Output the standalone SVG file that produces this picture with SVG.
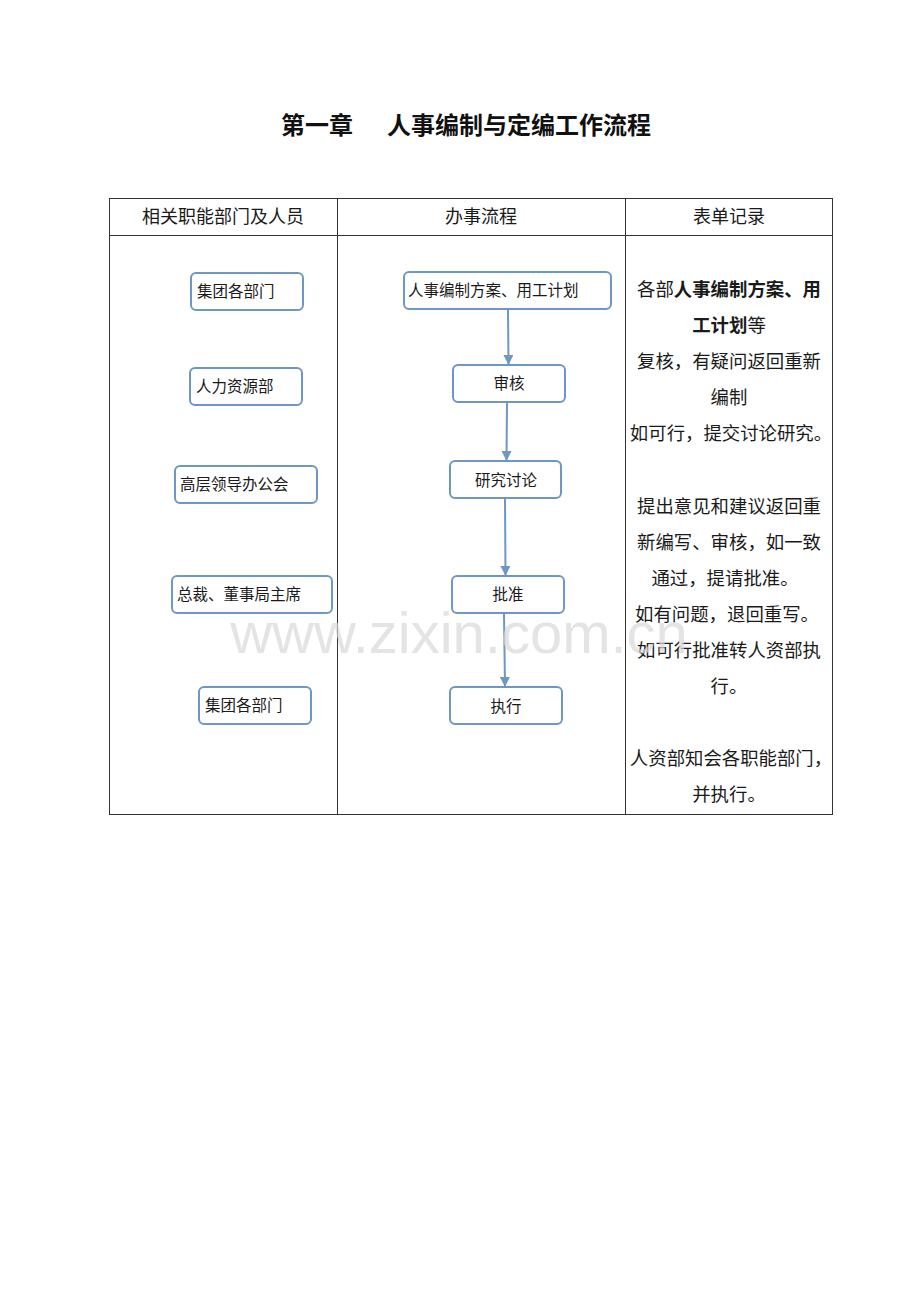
<svg xmlns="http://www.w3.org/2000/svg" width="920" height="1302" viewBox="0 0 920 1302">
<style>
.title{font-family:"Noto Sans CJK SC",sans-serif;font-weight:bold;font-size:24px;fill:#111}
.bx{fill:#fff;stroke:#6f97c3;stroke-width:2}
.nt{font-family:"Noto Sans CJK SC",sans-serif;font-size:15.5px;fill:#1a1a1a}
.hd{font-family:"Noto Sans CJK SC",sans-serif;font-size:18px;fill:#1a1a1a;text-anchor:middle}
.rt{font-family:"Noto Sans CJK SC",sans-serif;font-size:18.4px;fill:#1a1a1a;text-anchor:middle}
.grid{stroke:#333;stroke-width:1;fill:none}
.cn{stroke:#6f97c3;stroke-width:2;fill:none}
</style>
<defs>
<marker id="ah" markerWidth="10" markerHeight="10" refX="9" refY="5" orient="auto" markerUnits="userSpaceOnUse">
<path d="M0,0 L10,5 L0,10 Z" fill="#6f97c3"/>
</marker>
</defs>
<rect width="920" height="1302" fill="#fff"/>
<text class="title" x="281" y="134">第一章</text>
<text class="title" x="651" y="134" text-anchor="end">人事编制与定编工作流程</text>
<g id="table">
<rect class="grid" x="109.5" y="198.5" width="723" height="616"/>
<line class="grid" x1="109" y1="235.5" x2="832" y2="235.5"/>
<line class="grid" x1="337.5" y1="198" x2="337.5" y2="814"/>
<line class="grid" x1="625.5" y1="198" x2="625.5" y2="814"/>
<text class="hd" x="223" y="223">相关职能部门及人员</text>
<text class="hd" x="481" y="223">办事流程</text>
<text class="hd" x="729" y="223">表单记录</text>
</g>
<g id="l1"><rect class="bx" x="191" y="273" width="112" height="37" rx="5"/><text class="nt" x="197" y="297">集团各部门</text></g>
<g id="l2"><rect class="bx" x="190" y="368" width="112" height="37" rx="5"/><text class="nt" x="196" y="392">人力资源部</text></g>
<g id="l3"><rect class="bx" x="175" y="466" width="142" height="37" rx="5"/><text class="nt" x="180" y="490">高层领导办公会</text></g>
<g id="l4"><rect class="bx" x="172" y="576" width="160" height="37" rx="5"/><text class="nt" x="177" y="600">总裁、董事局主席</text></g>
<g id="l5"><rect class="bx" x="199" y="687" width="112" height="37" rx="5"/><text class="nt" x="205" y="711">集团各部门</text></g>
<g id="m1"><rect class="bx" x="404" y="272" width="207" height="37" rx="5"/><text class="nt" x="408" y="296">人事编制方案、用工计划</text></g>
<g id="m2"><rect class="bx" x="453" y="365" width="112" height="37" rx="5"/><text class="nt" x="509" y="389" text-anchor="middle">审核</text></g>
<g id="m3"><rect class="bx" x="450" y="461" width="111" height="37" rx="5"/><text class="nt" x="506" y="486" text-anchor="middle">研究讨论</text></g>
<g id="m4"><rect class="bx" x="452" y="576" width="112" height="37" rx="5"/><text class="nt" x="508" y="600" text-anchor="middle">批准</text></g>
<g id="m5"><rect class="bx" x="450" y="687" width="112" height="37" rx="5"/><text class="nt" x="506" y="712" text-anchor="middle">执行</text></g>
<g id="connectors">
<line class="cn" x1="508" y1="310" x2="508.5" y2="364" marker-end="url(#ah)"/>
<line class="cn" x1="507" y1="403" x2="506.5" y2="460" marker-end="url(#ah)"/>
<line class="cn" x1="505" y1="499" x2="505.5" y2="575" marker-end="url(#ah)"/>
<line class="cn" x1="504" y1="614" x2="505" y2="686" marker-end="url(#ah)"/>
</g>
<g id="records">
<text class="rt" x="729" y="296">各部<tspan font-weight="bold">人事编制方案、用</tspan></text>
<text class="rt" x="729" y="332"><tspan font-weight="bold">工计划</tspan>等</text>
<text class="rt" x="729" y="368">复核，有疑问返回重新</text>
<text class="rt" x="729" y="404">编制</text>
<text class="rt" x="731" y="440">如可行，提交讨论研究。</text>
<text class="rt" x="729" y="513">提出意见和建议返回重</text>
<text class="rt" x="729" y="549">新编写、审核，如一致</text>
<text class="rt" x="725" y="585">通过，提请批准。</text>
<text class="rt" x="727" y="621">如有问题，退回重写。</text>
<text class="rt" x="729" y="657">如可行批准转人资部执</text>
<text class="rt" x="729" y="693">行。</text>
<text class="rt" x="731" y="765">人资部知会各职能部门，</text>
<text class="rt" x="729" y="801">并执行。</text>
</g>
<text x="459" y="653" text-anchor="middle" font-family="Liberation Sans,sans-serif" font-size="58" fill="#d9d9d9" fill-opacity="0.7">www.zixin.com.cn</text>
</svg>
